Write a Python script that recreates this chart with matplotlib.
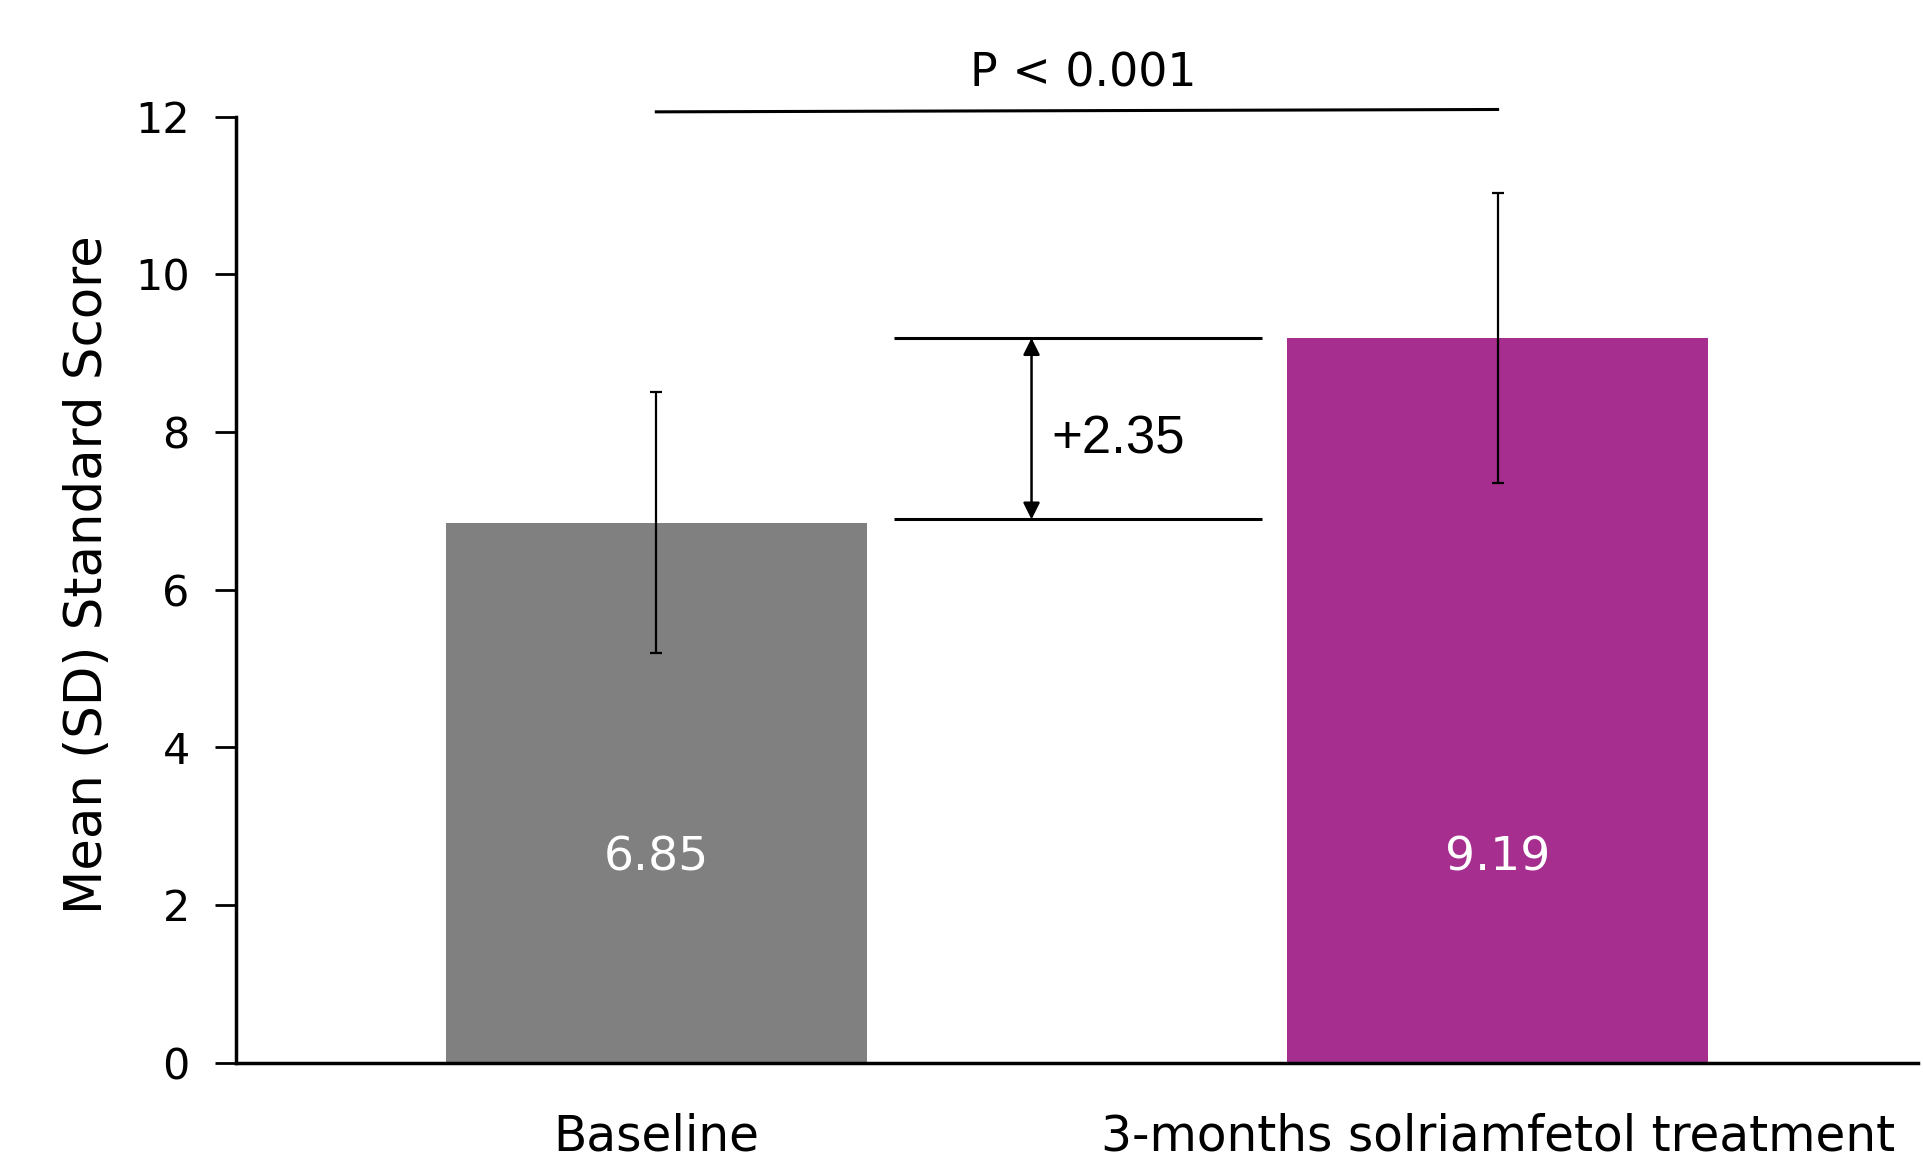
import numpy as np
import matplotlib
matplotlib.use("Agg")
import matplotlib.pyplot as plt

plt.rcParams['font.family'] = ['DejaVu Sans']

categories = ['Baseline', '3-months solriamfetol treatment']
means = [6.85, 9.19]
sds = [1.65, 1.84]
value_labels = ['6.85', '9.19']
colors = ['#808080', '#A62E8F']
diff_label = '+2.35'
p_label = 'P < 0.001'

fig = plt.figure(figsize=(19.24, 11.6), dpi=100)
ax = fig.add_axes([0.1225, 0.084, 0.8745, 0.8155])

x = np.arange(len(categories))
ax.bar(x, means, width=0.5, color=colors, zorder=2)
ax.errorbar(x, means, yerr=sds, fmt='none', ecolor='black',
            elinewidth=1.6, capsize=4.5, capthick=1.6, zorder=3)

for xi, v in zip(x, value_labels):
    ax.text(xi, 2.6, v, color='white', ha='center', va='center', fontsize=34)

# difference bracket
ax.hlines([means[0] + 0.04, means[1]], 0.282, 0.72, color='black', lw=2.2)
ax.annotate('', xy=(0.446, means[1]), xytext=(0.446, means[0] + 0.04),
            arrowprops=dict(arrowstyle='<|-|>', color='black', lw=1.8,
                            mutation_scale=25, shrinkA=0, shrinkB=0))
ax.text(0.47, 7.9, diff_label, ha='left', va='center', fontsize=38,
        family=['Liberation Sans', 'DejaVu Sans'])

# significance line
ax.plot([0, 1], [12.06, 12.09], color='black', lw=2.2, clip_on=False)
ax.text(0.507, 12.25, p_label, ha='center', va='bottom', fontsize=33)

ax.set_xlim(-0.5, 1.5)
ax.set_ylim(0, 12)
ax.set_yticks(np.arange(0, 13, 2))
ax.set_xticks(x)
ax.set_xticklabels(categories, fontsize=35)
ax.tick_params(axis='x', length=0, pad=36)
ax.tick_params(axis='y', length=15, width=2, labelsize=31, pad=18)
ax.set_ylabel('Mean (SD) Standard Score', fontsize=37)
ax.yaxis.set_label_coords(-0.073, 0.516)
for s in ['top', 'right']:
    ax.spines[s].set_visible(False)
for s in ['left', 'bottom']:
    ax.spines[s].set_linewidth(2.5)

fig.savefig('out.png', dpi=100)
